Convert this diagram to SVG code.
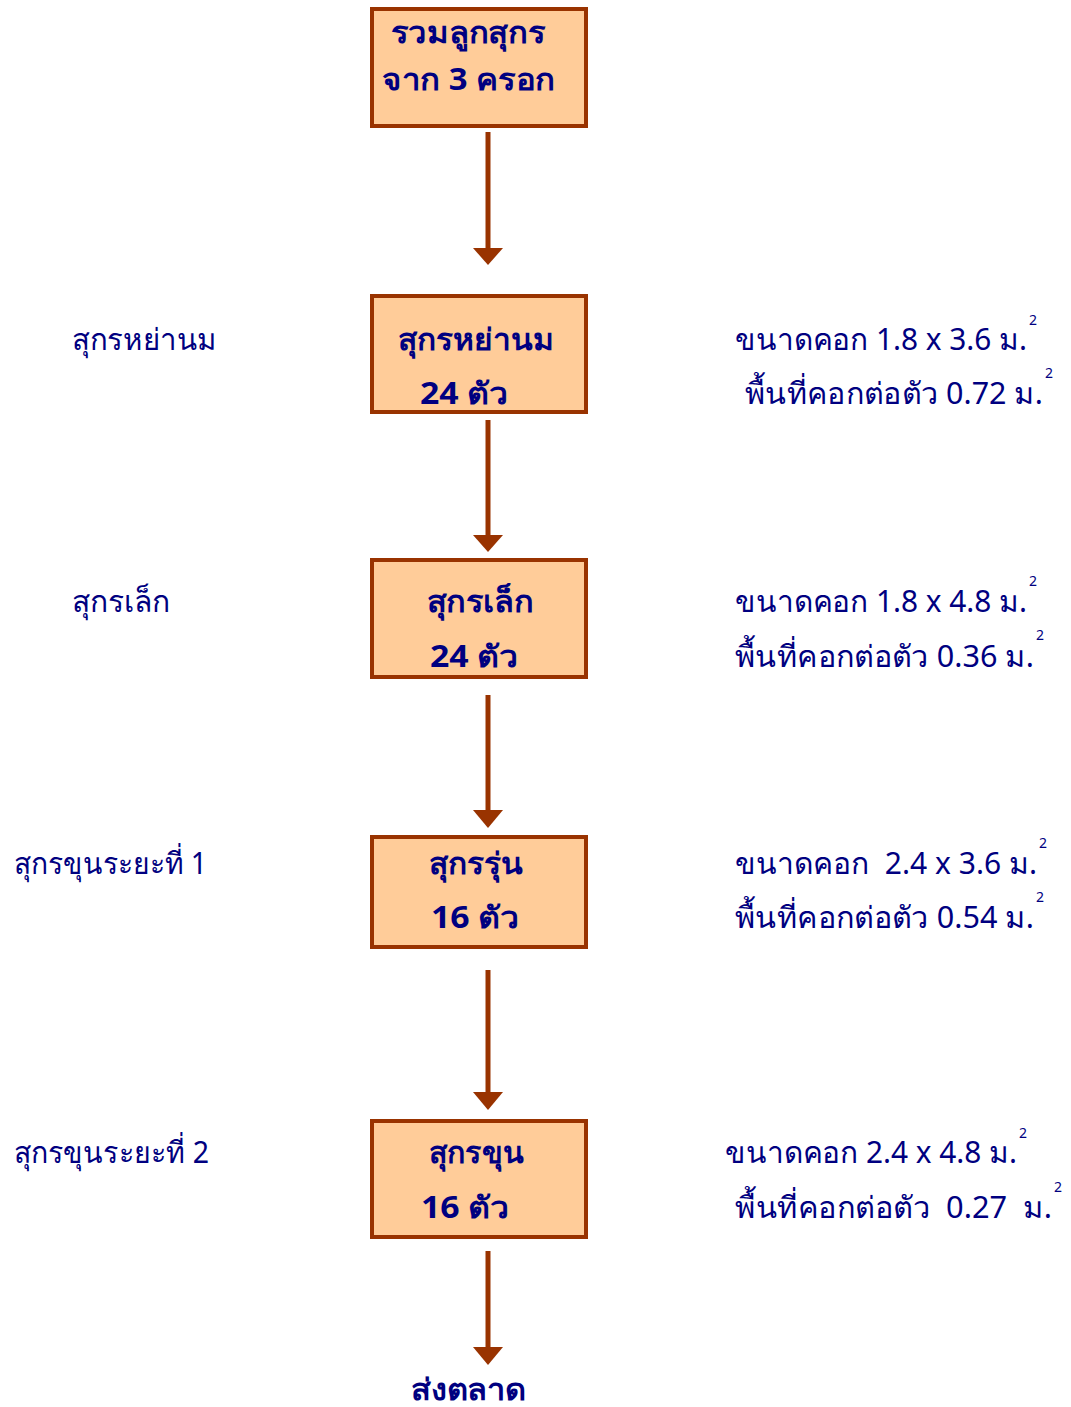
<svg xmlns="http://www.w3.org/2000/svg" width="1071" height="1407" viewBox="0 0 1071 1407">
<defs>
<style>
.box{fill:#FFCC99;stroke:#993300;stroke-width:4}
.t{font-family:"Noto Sans","DejaVu Sans",sans-serif;fill:#000080;font-size:30px;white-space:pre}
.b{font-weight:bold}
.sup{font-family:"Noto Sans","DejaVu Sans",sans-serif;fill:#000080;font-size:14px}
.ln{stroke:#993300;stroke-width:5;fill:none}
.hd{fill:#993300}
</style>
</defs>
<rect width="1071" height="1407" fill="#FFFFFF"/>
<g id="connectors">
<line class="ln" x1="488" y1="132" x2="488" y2="250"/><polygon class="hd" points="473,248 503,248 488,265"/>
<line class="ln" x1="488" y1="420" x2="488" y2="537"/><polygon class="hd" points="473,535 503,535 488,552"/>
<line class="ln" x1="488" y1="695" x2="488" y2="812"/><polygon class="hd" points="473,810 503,810 488,828"/>
<line class="ln" x1="488" y1="970" x2="488" y2="1094"/><polygon class="hd" points="473,1092 503,1092 488,1110"/>
<line class="ln" x1="488" y1="1251" x2="488" y2="1349"/><polygon class="hd" points="473,1347 503,1347 488,1365"/>
</g>
<g id="node1"><rect class="box" x="372" y="9" width="214" height="117"/>
<text class="t b" x="391" y="43" textLength="154" lengthAdjust="spacingAndGlyphs">รวมลูกสุกร</text><text class="t b" x="382" y="90" textLength="173" lengthAdjust="spacingAndGlyphs">จาก 3 ครอก</text></g>
<g id="node2"><rect class="box" x="372" y="296" width="214" height="116"/>
<text class="t b" x="398" y="350" textLength="156" lengthAdjust="spacingAndGlyphs">สุกรหย่านม</text><text class="t b" x="420" y="404" textLength="88" lengthAdjust="spacingAndGlyphs">24 ตัว</text></g>
<g id="node3"><rect class="box" x="372" y="560" width="214" height="117"/>
<text class="t b" x="427" y="612" textLength="106" lengthAdjust="spacingAndGlyphs">สุกรเล็ก</text><text class="t b" x="430" y="667" textLength="88" lengthAdjust="spacingAndGlyphs">24 ตัว</text></g>
<g id="node4"><rect class="box" x="372" y="837" width="214" height="110"/>
<text class="t b" x="429" y="874" textLength="94" lengthAdjust="spacingAndGlyphs">สุกรรุ่น</text><text class="t b" x="431" y="928" textLength="88" lengthAdjust="spacingAndGlyphs">16 ตัว</text></g>
<g id="node5"><rect class="box" x="372" y="1121" width="214" height="116"/>
<text class="t b" x="429" y="1163" textLength="95" lengthAdjust="spacingAndGlyphs">สุกรขุน</text><text class="t b" x="421" y="1218" textLength="88" lengthAdjust="spacingAndGlyphs">16 ตัว</text></g>
<g id="node6"><text class="t b" x="411" y="1400" textLength="115" lengthAdjust="spacingAndGlyphs">ส่งตลาด</text></g>
<g id="labels-left">
<text class="t" x="72" y="350" textLength="145" lengthAdjust="spacingAndGlyphs">สุกรหย่านม</text>
<text class="t" x="72" y="612" textLength="98" lengthAdjust="spacingAndGlyphs">สุกรเล็ก</text>
<text class="t" x="14" y="874" textLength="193" lengthAdjust="spacingAndGlyphs">สุกรขุนระยะที่ 1</text>
<text class="t" x="14" y="1163" textLength="195" lengthAdjust="spacingAndGlyphs">สุกรขุนระยะที่ 2</text>
</g>
<g id="labels-right">
<text class="t" x="735" y="350" textLength="292" lengthAdjust="spacingAndGlyphs">ขนาดคอก 1.8 x 3.6 ม.</text><text class="sup" x="1029" y="325">2</text>
<text class="t" x="745" y="404" textLength="298" lengthAdjust="spacingAndGlyphs">พื้นที่คอกต่อตัว 0.72 ม.</text><text class="sup" x="1045" y="378">2</text>
<text class="t" x="735" y="612" textLength="292" lengthAdjust="spacingAndGlyphs">ขนาดคอก 1.8 x 4.8 ม.</text><text class="sup" x="1029" y="586">2</text>
<text class="t" x="735" y="667" textLength="299" lengthAdjust="spacingAndGlyphs">พื้นที่คอกต่อตัว 0.36 ม.</text><text class="sup" x="1036" y="640">2</text>
<text class="t" x="735" y="874" textLength="302" lengthAdjust="spacingAndGlyphs">ขนาดคอก  2.4 x 3.6 ม.</text><text class="sup" x="1039" y="848">2</text>
<text class="t" x="735" y="928" textLength="299" lengthAdjust="spacingAndGlyphs">พื้นที่คอกต่อตัว 0.54 ม.</text><text class="sup" x="1036" y="902">2</text>
<text class="t" x="725" y="1163" textLength="292" lengthAdjust="spacingAndGlyphs">ขนาดคอก 2.4 x 4.8 ม.</text><text class="sup" x="1019" y="1138">2</text>
<text class="t" x="735" y="1218" textLength="317" lengthAdjust="spacingAndGlyphs">พื้นที่คอกต่อตัว  0.27  ม.</text><text class="sup" x="1054" y="1192">2</text>
</g>
</svg>
